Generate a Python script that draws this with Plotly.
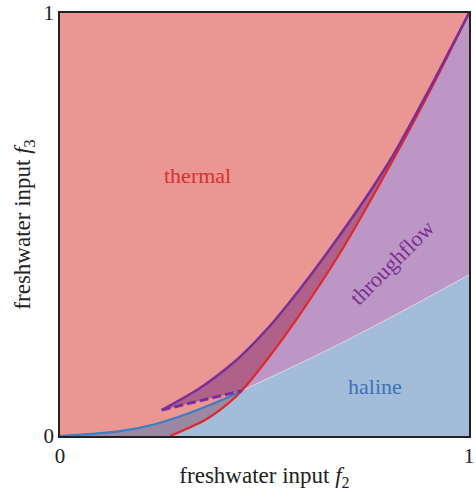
import plotly.graph_objects as go

# ---- data (f2 on x, f3 on y) ----
# haline boundary (blue); index 6 is the triple point
blue_x = [0.0, 0.0733, 0.1509, 0.2323, 0.3130, 0.3954, 0.4443, 0.5910, 0.6724, 0.7538, 0.8355, 0.9169, 1.0]
blue_y = [0.0, 0.0045, 0.0121, 0.0279, 0.0530, 0.0849, 0.1071, 0.1738, 0.2123, 0.2525, 0.2943, 0.3369, 0.3811]
# thermal boundary (red); index 3 is the triple point
red_x = [0.2689, 0.3545, 0.4115, 0.4443, 0.5093, 0.5770, 0.6846, 0.8142, 0.9120, 1.0]
red_y = [0.0, 0.0378, 0.0773, 0.1071, 0.1844, 0.2742, 0.4326, 0.6525, 0.8298, 1.0]
# throughflow upper boundary (purple)
pur_x = [0.2487, 0.3423, 0.4230, 0.4694, 0.5257, 0.6528, 0.8044, 0.9083, 1.0]
pur_y = [0.0615, 0.1135, 0.1726, 0.2151, 0.2742, 0.4326, 0.6478, 0.8298, 1.0]

IB = 6  # triple point index in blue
IR = 3  # triple point index in red

C_THERMAL = "#EA9692"
C_HALINE = "#A2BCD9"
C_THROUGH = "#BC96C4"
C_TH_TF = "#B0618A"
C_TH_HA = "#9B88A2"

fig = go.Figure()

def poly(xs, ys, color):
    fig.add_trace(go.Scatter(x=xs, y=ys, mode="lines", fill="toself", fillcolor=color,
                             line=dict(width=0, color=color), hoverinfo="skip", showlegend=False))

# thermal region (left of red curve)
poly([0.0] + red_x + [0.0], [0.0] + red_y + [1.0], C_THERMAL)
# thermal & haline overlap
poly(blue_x[:IB + 1] + red_x[:IR + 1][::-1], blue_y[:IB + 1] + red_y[:IR + 1][::-1], C_TH_HA)
# haline only
poly(red_x[:IR + 1] + blue_x[IB + 1:] + [1.0], red_y[:IR + 1] + blue_y[IB + 1:] + [0.0], C_HALINE)
# throughflow only
poly(red_x[IR:] + blue_x[IB + 1:][::-1], red_y[IR:] + blue_y[IB + 1:][::-1], C_THROUGH)
# throughflow & thermal overlap
poly(pur_x + red_x[IR:-1][::-1], pur_y + red_y[IR:-1][::-1], C_TH_TF)

def line(xs, ys, color, width, dash="solid"):
    fig.add_trace(go.Scatter(x=xs, y=ys, mode="lines",
                             line=dict(color=color, width=width, dash=dash, shape="spline", smoothing=0.8),
                             hoverinfo="skip", showlegend=False))

line(blue_x[IB:], blue_y[IB:], "rgba(255,255,255,0.55)", 1)
line(blue_x[:IB + 1], blue_y[:IB + 1], "#3D7DC3", 2.2)
line(red_x, red_y, "#E2272A", 2.2)
line(pur_x, pur_y, "#7A2E98", 2.5)
line([pur_x[0], red_x[IR]], [pur_y[0], red_y[IR]], "#7A2E98", 3, dash="9px,4px")

FONT = "Liberation Serif"
fig.add_annotation(x=0.335, y=0.615, text="thermal", showarrow=False,
                   font=dict(family=FONT, size=22, color="#D8322C"))
fig.add_annotation(x=0.769, y=0.1166, text="haline", showarrow=False,
                   font=dict(family=FONT, size=22, color="#3B72B6"))
fig.add_annotation(x=0.812, y=0.409, text="throughflow", showarrow=False, textangle=-45,
                   font=dict(family=FONT, size=22, color="#7B2E92"))

axis_common = dict(range=[0, 1], showgrid=False, zeroline=False, showline=True, mirror=True,
                   linecolor="#222222", linewidth=1.5, ticks="", tickvals=[0, 1], ticktext=["0", "1"],
                   automargin=False,
                   tickfont=dict(family=FONT, size=21, color="#222222"))
fig.update_layout(
    width=476, height=491,
    margin=dict(l=60, r=7, t=13, b=55, autoexpand=False),
    paper_bgcolor="white", plot_bgcolor=C_THERMAL,
    showlegend=False,
    xaxis=dict(**axis_common,
               title=dict(text="freshwater input <i>f</i><sub>2</sub>", standoff=6,
                          font=dict(family=FONT, size=23, color="#222222"))),
    yaxis=dict(**axis_common,
               title=dict(text="freshwater input <i>f</i><sub>3</sub>", standoff=6,
                          font=dict(family=FONT, size=23, color="#222222"))),
)

fig.write_html("out.html")
